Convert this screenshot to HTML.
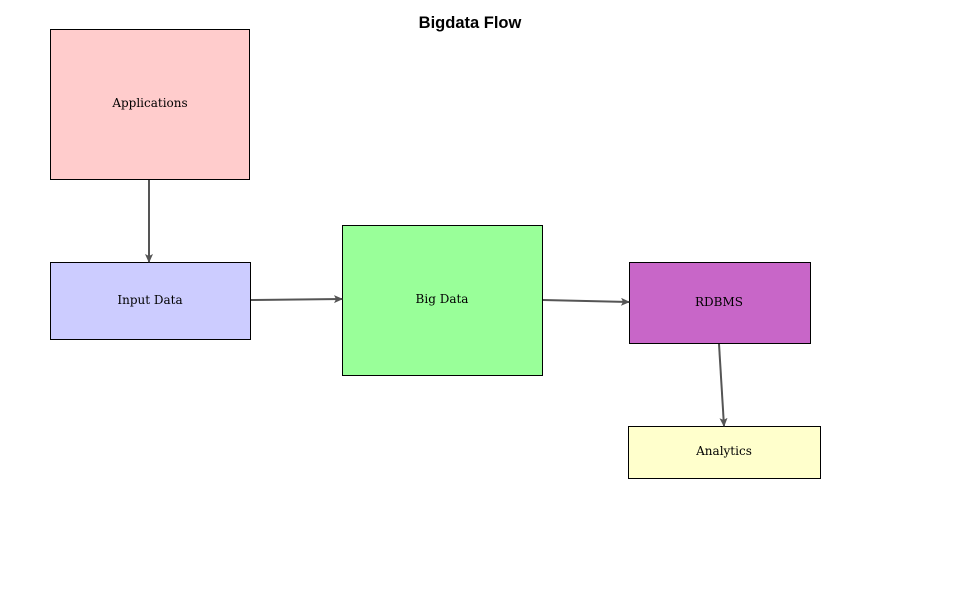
<!DOCTYPE html>
<html><head><meta charset="utf-8"><style>
html,body{margin:0;padding:0;background:#fff;width:960px;height:600px;overflow:hidden}
</style></head><body>
<svg width="960" height="600" xmlns="http://www.w3.org/2000/svg">
<defs><marker id="a" markerWidth="10" markerHeight="10" refX="8" refY="4" orient="auto" markerUnits="userSpaceOnUse"><path d="M0,0 L9,4 L0,8 L2,4 z" fill="#555"/></marker></defs>
<text x="470" y="28" text-anchor="middle" font-family="Liberation Sans, sans-serif" font-weight="bold" font-size="16.5">Bigdata Flow</text>
<g stroke="#000" stroke-width="1">
<rect x="50.5" y="29.5" width="199" height="150" fill="#ffcccc"/>
<rect x="50.5" y="262.5" width="200" height="77" fill="#ccccff"/>
<rect x="342.5" y="225.5" width="200" height="150" fill="#99ff99"/>
<rect x="629.5" y="262.5" width="181" height="81" fill="#c866c8"/>
<rect x="628.5" y="426.5" width="192" height="52" fill="#ffffcc"/>
</g>
<g stroke="#555" stroke-width="2" fill="none" marker-end="url(#a)">
<line x1="149" y1="180" x2="149" y2="262"/>
<line x1="251" y1="300" x2="342" y2="299"/>
<line x1="543" y1="300" x2="629" y2="302"/>
<line x1="719" y1="344" x2="724" y2="426"/>
</g>
<g font-family="DejaVu Serif, serif" font-size="12" text-anchor="middle" fill="#000">
<text x="150" y="107">Applications</text>
<text x="150" y="304">Input Data</text>
<text x="442" y="303">Big Data</text>
<text x="719" y="306">RDBMS</text>
<text x="724" y="455">Analytics</text>
</g>
</svg>
</body></html>
